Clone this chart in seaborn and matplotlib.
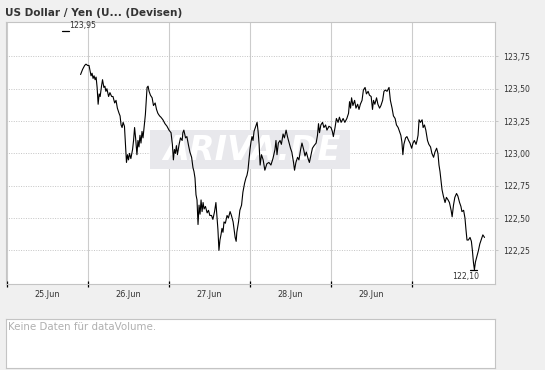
import numpy as np
import pandas as pd
import matplotlib
matplotlib.use("Agg")
import matplotlib.pyplot as plt
from matplotlib.ticker import FixedLocator, FuncFormatter
from matplotlib.patches import Rectangle
import seaborn as sns

# ---------------- data ----------------
# hours since 25.Jun 00:00
hours = [21.8, 22.4, 23.0, 23.4, 23.9, 24.3, 24.6, 24.9, 25.2, 25.5, 25.8, 26.1, 26.4, 26.7, 27.0, 27.3, 27.6, 28.0, 28.3, 28.7,
         29.0, 29.3, 29.6, 30.1, 30.5, 31.0, 31.4, 31.9, 32.3, 32.7, 33.2, 33.5, 33.8, 34.1, 34.4, 34.8, 35.1, 35.4, 35.7, 36.0,
         36.3, 36.7, 37.2, 37.5, 37.8, 38.1, 38.5, 38.8, 39.1, 39.4, 39.7, 40.0, 40.3, 40.6, 41.0, 41.5, 41.8, 42.1, 42.5, 43.0,
         43.4, 43.9, 44.3, 44.7, 45.2, 45.6, 46.2, 46.8, 47.4, 48.0, 48.6, 49.0, 49.3, 49.6, 49.9, 50.2, 50.5, 51.0, 51.4, 51.9,
         52.1, 52.4, 52.9, 53.3, 53.8, 54.2, 54.7, 55.1, 55.4, 55.7, 56.0, 56.3, 56.6, 56.9, 57.2, 57.5, 57.8, 58.1, 58.4, 58.8,
         59.3, 59.7, 60.1, 60.6, 61.0, 61.5, 61.9, 62.2, 62.5, 62.8, 63.1, 63.4, 63.7, 64.0, 64.3, 64.7, 65.2, 65.6, 66.1, 66.5,
         67.0, 67.3, 67.6, 67.9, 68.1, 68.6, 69.0, 69.5, 69.9, 70.4, 70.8, 71.1, 71.4, 71.7, 72.0, 72.3, 72.6, 72.9, 73.2, 73.6,
         74.1, 74.4, 74.7, 75.0, 75.4, 75.9, 76.4, 77.0, 77.6, 78.2, 78.8, 79.4, 79.7, 80.0, 80.4, 80.9, 81.3, 81.8, 82.2, 82.7,
         83.1, 83.6, 84.0, 84.4, 84.9, 85.2, 85.6, 86.1, 86.5, 87.0, 87.4, 87.9, 88.3, 88.7, 89.2, 89.6, 90.1, 90.5, 91.0, 91.6,
         92.0, 92.3, 92.6, 93.0, 93.5, 93.9, 94.4, 94.8, 95.4, 96.0, 96.4, 96.7, 97.2, 97.6, 98.1, 98.5, 99.0, 99.6, 100.1, 100.7,
         101.2, 101.5, 101.8, 102.1, 102.5, 103.0, 103.4, 103.9, 104.3, 104.7, 105.2, 105.6, 106.1, 106.5, 107.0, 107.4, 107.9, 108.3, 108.6, 109.0,
         109.5, 109.9, 110.4, 110.8, 111.3, 111.7, 112.1, 112.6, 113.2, 113.6, 114.1, 114.5, 115.0, 115.4, 115.9, 116.3, 116.7, 117.0, 117.3, 117.6,
         118.1, 118.5, 119.0, 119.4, 119.9, 120.3, 120.7, 121.2, 121.5, 121.8, 122.1, 122.5, 123.0, 123.3, 123.7, 124.1, 124.6, 125.0, 125.5, 125.9,
         126.4, 126.8, 127.3, 127.7, 128.0, 128.3, 128.6, 128.9, 129.3, 129.8, 130.2, 130.7, 131.1, 131.6, 131.9, 132.3, 132.7, 133.2, 133.6, 134.1,
         134.5, 134.8, 135.3, 135.7, 136.0, 136.3, 136.7, 137.2, 137.6, 137.9, 138.2, 138.5, 138.8, 139.3, 139.7, 140.1, 140.6, 141.0, 141.5]

rates = [123.61, 123.65, 123.68, 123.69, 123.68, 123.68, 123.64, 123.60, 123.62, 123.58, 123.60, 123.57, 123.59, 123.51, 123.38, 123.46, 123.44, 123.52, 123.57, 123.51,
         123.52, 123.48, 123.50, 123.44, 123.47, 123.44, 123.44, 123.39, 123.41, 123.35, 123.31, 123.29, 123.22, 123.20, 123.24, 123.21, 123.07, 122.93, 122.99, 122.95,
         123.00, 122.96, 123.03, 123.10, 123.20, 123.12, 122.99, 123.10, 123.05, 123.14, 123.08, 123.17, 123.12, 123.20, 123.30, 123.51, 123.52, 123.48, 123.45, 123.43,
         123.37, 123.39, 123.34, 123.31, 123.29, 123.28, 123.26, 123.23, 123.21, 123.18, 123.16, 123.07, 122.95, 123.03, 123.00, 123.06, 122.99, 123.07, 123.12, 123.10,
         123.16, 123.18, 123.12, 123.13, 123.06, 123.01, 122.97, 122.89, 122.86, 122.81, 122.68, 122.64, 122.45, 122.60, 122.53, 122.64, 122.55, 122.62, 122.57, 122.59,
         122.54, 122.56, 122.52, 122.52, 122.49, 122.55, 122.62, 122.52, 122.41, 122.25, 122.33, 122.37, 122.42, 122.39, 122.47, 122.46, 122.52, 122.50, 122.55, 122.52,
         122.47, 122.41, 122.35, 122.32, 122.39, 122.47, 122.56, 122.60, 122.70, 122.77, 122.81, 122.83, 122.87, 122.95, 123.03, 123.09, 123.13, 123.10, 123.17, 123.20,
         123.24, 123.17, 123.07, 122.91, 122.99, 122.95, 122.87, 122.92, 122.93, 122.91, 122.96, 123.03, 123.10, 122.99, 123.08, 123.10, 123.07, 123.15, 123.12, 123.18,
         123.13, 123.08, 123.04, 123.01, 122.93, 122.87, 122.93, 122.97, 122.95, 123.03, 123.08, 123.03, 122.98, 123.01, 122.96, 122.93, 122.99, 123.04, 123.06, 123.08,
         123.14, 123.23, 123.16, 123.22, 123.24, 123.20, 123.22, 123.18, 123.21, 123.20, 123.17, 123.13, 123.20, 123.27, 123.24, 123.28, 123.24, 123.27, 123.24, 123.27,
         123.31, 123.40, 123.35, 123.43, 123.37, 123.41, 123.35, 123.38, 123.34, 123.38, 123.41, 123.49, 123.51, 123.46, 123.48, 123.45, 123.44, 123.34, 123.41, 123.38,
         123.43, 123.38, 123.35, 123.37, 123.41, 123.48, 123.49, 123.48, 123.51, 123.41, 123.35, 123.29, 123.27, 123.22, 123.20, 123.17, 123.14, 123.09, 122.99, 123.07,
         123.12, 123.13, 123.10, 123.08, 123.04, 123.08, 123.10, 123.07, 123.10, 123.14, 123.26, 123.24, 123.26, 123.20, 123.22, 123.18, 123.10, 123.07, 123.05, 123.00,
         122.97, 123.01, 123.04, 123.00, 122.91, 122.86, 122.79, 122.72, 122.67, 122.62, 122.66, 122.64, 122.62, 122.56, 122.51, 122.60, 122.66, 122.69, 122.67, 122.62,
         122.59, 122.55, 122.56, 122.50, 122.41, 122.33, 122.33, 122.35, 122.32, 122.25, 122.16, 122.10, 122.16, 122.21, 122.25, 122.30, 122.34, 122.37, 122.35]

day_labels = ["25.Jun", "26.Jun", "27.Jun", "28.Jun", "29.Jun"]
y_ticks = [122.25, 122.50, 122.75, 123.00, 123.25, 123.50, 123.75]
period_high = 123.95
period_low = min(rates)
title = "US Dollar / Yen (U... (Devisen)"
volume_note = "Keine Daten für dataVolume."
watermark = "ARIVA.DE"

df = pd.DataFrame({"hour": hours, "rate": rates})

# ---------------- figure ----------------
sns.set_style("white")
plt.rcParams["font.family"] = ["DejaVu Sans"]

W, H = 545, 370
fig = plt.figure(figsize=(W / 100, H / 100), dpi=100, facecolor="#f0f0f0")

def px_rect(x0, y0, x1, y1):
    return [x0 / W, 1 - y1 / H, (x1 - x0) / W, (y1 - y0) / H]

ax = fig.add_axes(px_rect(6, 21.5, 495, 284))
ax.set_facecolor("white")

# watermark box + text (above grid, below the line)
ax.add_patch(Rectangle((150 / W, 1 - 169 / H), 200 / W, 39 / H,
                       transform=fig.transFigure, facecolor="#e8e8ec",
                       edgecolor="none", zorder=1))
ax.text(252 / W, 1 - 150 / H, watermark, transform=fig.transFigure, color="white",
        fontsize=24, fontweight="bold", fontstyle="italic", ha="center", va="center",
        zorder=1.5)

sns.lineplot(data=df, x="hour", y="rate", ax=ax, color="black", linewidth=0.8,
             estimator=None, sort=False, zorder=3)

ax.set_xlim(-0.3, 144.6)
ax.set_ylim(121.99, 124.02)

# x axis: day boundaries as major ticks, labels centred at noon
ax.xaxis.set_major_locator(FixedLocator([0, 24, 48, 72, 96, 120]))
ax.xaxis.set_major_formatter(FuncFormatter(lambda v, p: ""))
ax.set_xticks([12 + 24 * i for i in range(len(day_labels))], minor=True)
ax.set_xticklabels(day_labels, minor=True)
ax.tick_params(axis="x", which="major", direction="inout", length=4, width=0.9,
               color="black", bottom=True)
ax.tick_params(axis="x", which="minor", length=0, labelsize=5.9, pad=4,
               labelcolor="#333333")

# y axis on the right
ax.yaxis.tick_right()
ax.set_yticks(y_ticks)
ax.yaxis.set_major_formatter(FuncFormatter(lambda v, p: f"{v:.2f}".replace(".", ",")))
ax.tick_params(axis="y", which="major", length=2, width=0.6, color="#c0c0c0",
               labelsize=5.6, pad=4, labelcolor="#333333", right=True, left=False)

ax.grid(False)
ax.yaxis.grid(True, linestyle=(0, (1, 1.5)), color="#c4c4c4", linewidth=0.7)
ax.xaxis.grid(True, which="major", linestyle="-", color="#cccccc", linewidth=0.8)
ax.set_axisbelow(True)
for s in ax.spines.values():
    s.set_color("#c4c4c4")
    s.set_linewidth(0.8)
ax.set_xlabel("")
ax.set_ylabel("")

# high / low markers
ax.plot([16.3, 18.4], [period_high, period_high], color="black", linewidth=0.9, zorder=4)
ax.text(18.4, period_high + 0.005, f"{period_high:.2f}".replace(".", ","), fontsize=5.6,
        color="#333333", ha="left", va="bottom")
low_h = hours[rates.index(period_low)]
ax.plot([low_h - 1.2, low_h + 0.9], [period_low, period_low], color="black",
        linewidth=0.9, zorder=4)
ax.text(low_h - 2.6, period_low - 0.02, f"{period_low:.2f}".replace(".", ","),
        fontsize=5.6, color="#333333", ha="center", va="top")

# title
fig.text(5 / W, 1 - 13 / H, title, fontsize=7.6, fontweight="bold",
         color="#333333", ha="left", va="center")

# volume panel
ax2 = fig.add_axes(px_rect(6, 319, 495, 368))
ax2.set_facecolor("white")
ax2.set_xticks([])
ax2.set_yticks([])
for s in ax2.spines.values():
    s.set_color("#c4c4c4")
    s.set_linewidth(0.8)
ax2.text(2.5 / 489, 1 - 8.5 / 49, volume_note, transform=ax2.transAxes,
         fontsize=7.4, color="#b0b0b0", ha="left", va="center")

fig.savefig("out.png", dpi=100, facecolor=fig.get_facecolor())
